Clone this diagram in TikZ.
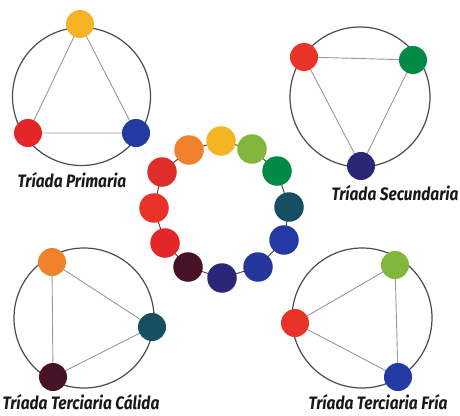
\documentclass[tikz,border=0pt]{standalone}
\usepackage{fontspec}
\newfontfamily\labfont[FakeStretch=0.86]{Fira Sans}
\definecolor{cYellow}{RGB}{245,180,35}
\definecolor{cOrange}{RGB}{238,130,45}
\definecolor{cLGreen}{RGB}{130,182,60}
\definecolor{cGreen}{RGB}{0,138,68}
\definecolor{cTeal}{RGB}{22,78,98}
\definecolor{cBlue}{RGB}{35,58,165}
\definecolor{cBlueB}{RGB}{38,55,155}
\definecolor{cNavy}{RGB}{42,40,118}
\definecolor{cMaroon}{RGB}{72,18,38}
\definecolor{cRed}{RGB}{228,38,40}
\definecolor{cRedO}{RGB}{232,52,40}
\definecolor{cRedB}{RGB}{222,45,42}
\begin{document}
\begin{tikzpicture}[x=1pt,y=-1pt,
  dot/.style={circle,inner sep=0pt,minimum size=28pt,fill=#1},
  wdot/.style={circle,inner sep=0pt,minimum size=29.5pt,fill=#1},
  ring/.style={draw=black!70,line width=1.2pt},
  tri/.style={draw=black!40,line width=0.9pt},
  wlink/.style={draw=black!75,line width=0.9pt},
  lab/.style={font=\labfont\bfseries\itshape\fontsize{18}{18}\selectfont,text=black!90,inner sep=0pt}]
\useasboundingbox (0,0) rectangle (460,415);
\fill[white] (0,0) rectangle (460,415);

% ---- Triada Primaria
\node[circle,ring,minimum size=138pt,inner sep=0pt] (r1) at (81.5,96.5) {};
\coordinate (p1) at (80,24);
\coordinate (p2) at (28,133);
\coordinate (p3) at (136,133);
\draw[tri] (p1) -- (p2) -- (p3) -- cycle;
\node[dot=cYellow] (a1) at (p1) {};
\node[dot=cRed] (a2) at (p2) {};
\node[dot=cBlue] (a3) at (p3) {};
\node[lab] (l1) at (72,180) {Tríada Primaria};

% ---- Triada Secundaria
\node[circle,ring,minimum size=140pt,inner sep=0pt] (r2) at (360,97) {};
\coordinate (q1) at (304,57);
\coordinate (q2) at (413,60);
\coordinate (q3) at (361,166);
\draw[tri] (q1) -- (q2) -- (q3) -- cycle;
\node[dot=cRedO] (b1) at (q1) {};
\node[dot=cGreen] (b2) at (q2) {};
\node[dot=cNavy] (b3) at (q3) {};
\node[lab] (l2) at (395,193) {Tríada Secundaria};

% ---- Triada Terciaria Calida
\node[circle,ring,minimum size=140pt,inner sep=0pt] (r3) at (84,318) {};
\coordinate (s1) at (52,262);
\coordinate (s2) at (152,327);
\coordinate (s3) at (53,377);
\draw[tri] (s1) -- (s2) -- (s3) -- cycle;
\node[dot=cOrange] (c1) at (s1) {};
\node[dot=cTeal] (c2) at (s2) {};
\node[dot=cMaroon] (c3) at (s3) {};
\node[lab] (l3) at (81,402) {Tríada Terciaria Cálida};

% ---- Triada Terciaria Fria
\node[circle,ring,minimum size=140pt,inner sep=0pt] (r4) at (362,318) {};
\coordinate (t1) at (395,265);
\coordinate (t2) at (295,323);
\coordinate (t3) at (398,377);
\draw[tri] (t1) -- (t2) -- (t3) -- cycle;
\node[dot=cLGreen] (d1) at (t1) {};
\node[dot=cRedO] (d2) at (t2) {};
\node[dot=cBlue] (d3) at (t3) {};
\node[lab] (l4) at (378,402) {Tríada Terciaria Fría};

% ---- colour wheel
\coordinate (w1) at (221,141);
\coordinate (w2) at (252,149);
\coordinate (w3) at (277,171);
\coordinate (w4) at (289,207);
\coordinate (w5) at (284,240);
\coordinate (w6) at (258,267);
\coordinate (w7) at (222,278);
\coordinate (w8) at (188,267);
\coordinate (w9) at (165,243);
\coordinate (w10) at (154,208);
\coordinate (w11) at (162,172);
\coordinate (w12) at (189,150);
\draw[wlink] (w1) -- (w2) -- (w3) -- (w4) -- (w5) -- (w6) -- (w7) -- (w8) -- (w9) -- (w10) -- (w11) -- (w12) -- cycle;
\node[wdot=cYellow] (e1) at (w1) {};
\node[wdot=cLGreen] (e2) at (w2) {};
\node[wdot=cGreen] (e3) at (w3) {};
\node[wdot=cTeal] (e4) at (w4) {};
\node[wdot=cBlue] (e5) at (w5) {};
\node[wdot=cBlueB] (e6) at (w6) {};
\node[wdot=cNavy] (e7) at (w7) {};
\node[wdot=cMaroon] (e8) at (w8) {};
\node[wdot=cRed] (e9) at (w9) {};
\node[wdot=cRedO] (e10) at (w10) {};
\node[wdot=cRedB] (e11) at (w11) {};
\node[wdot=cOrange] (e12) at (w12) {};
\end{tikzpicture}
\end{document}
